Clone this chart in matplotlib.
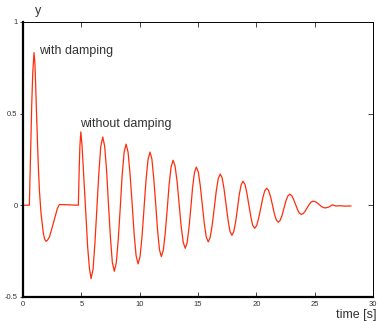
import matplotlib
matplotlib.use('Agg')
import matplotlib.pyplot as plt

plt.rcParams['font.family'] = ['Liberation Sans', 'DejaVu Sans']

# time [s] and response y
t = [0.0, 0.54, 0.6, 0.67, 0.74, 0.83, 0.94, 1.02, 1.09, 1.16, 1.23, 1.31, 1.4,
     1.54, 1.74, 1.85, 1.97, 2.1, 2.26, 2.51, 2.74, 2.94, 3.11, 4.74, 4.8, 4.87,
     4.95, 5.05, 5.17, 5.34, 5.54, 5.69, 5.83,
     6.0, 6.16, 6.33, 6.5, 6.66, 6.83,
     6.99, 7.16, 7.32, 7.49, 7.65, 7.82,
     7.99, 8.16, 8.33, 8.49, 8.66, 8.83,
     9.00, 9.17, 9.35, 9.52, 9.69, 9.86,
     10.03, 10.20, 10.37, 10.54, 10.71, 10.88,
     11.04, 11.20, 11.37, 11.53, 11.69, 11.85,
     12.02, 12.19, 12.36, 12.52, 12.69, 12.86,
     13.03, 13.21, 13.38, 13.55, 13.73, 13.9,
     14.06, 14.22, 14.38, 14.53, 14.69, 14.85,
     15.02, 15.19, 15.36, 15.53, 15.70, 15.87,
     16.04, 16.21, 16.39, 16.56, 16.73, 16.9,
     17.07, 17.23, 17.40, 17.57, 17.73, 17.9,
     18.06, 18.22, 18.38, 18.53, 18.69, 18.85,
     19.02, 19.18, 19.35, 19.52, 19.68, 19.85,
     20.02, 20.19, 20.37, 20.54, 20.71, 20.88,
     21.04, 21.21, 21.38, 21.54, 21.71, 21.87,
     22.03, 22.20, 22.36, 22.52, 22.69, 22.85,
     23.02, 23.18, 23.35, 23.52, 23.68, 23.85,
     24.02, 24.18, 24.35, 24.52, 24.68, 24.85,
     25.03, 25.20, 25.38, 25.55, 25.73, 25.9,
     26.2, 26.5, 26.8, 27.2, 27.6, 28.1]
y = [0.0, 0.0, 0.17, 0.36, 0.54, 0.72, 0.832, 0.77, 0.63, 0.49, 0.355, 0.21, 0.082,
     -0.044, -0.153, -0.185, -0.197, -0.19, -0.173, -0.118, -0.064, -0.018, 0.004, 0.0, 0.17, 0.32,
     0.40, 0.33, 0.19, 0.0, -0.23, -0.345, -0.40,
     -0.348, -0.207, -0.014, 0.179, 0.320, 0.372,
     0.323, 0.189, 0.006, -0.177, -0.311, -0.36,
     -0.314, -0.187, -0.014, 0.160, 0.287, 0.333,
     0.289, 0.170, 0.007, -0.157, -0.276, -0.32,
     -0.279, -0.168, -0.015, 0.138, 0.249, 0.29,
     0.252, 0.148, 0.005, -0.138, -0.242, -0.28,
     -0.245, -0.149, -0.018, 0.114, 0.210, 0.245,
     0.213, 0.125, 0.005, -0.115, -0.203, -0.235,
     -0.205, -0.124, -0.014, 0.097, 0.178, 0.208,
     0.181, 0.106, 0.004, -0.098, -0.173, -0.20,
     -0.175, -0.108, -0.015, 0.078, 0.145, 0.17,
     0.148, 0.087, 0.003, -0.081, -0.142, -0.164,
     -0.144, -0.090, -0.017, 0.057, 0.111, 0.131,
     0.114, 0.067, 0.003, -0.062, -0.109, -0.126,
     -0.111, -0.071, -0.017, 0.038, 0.078, 0.093,
     0.081, 0.047, 0.0, -0.047, -0.081, -0.093,
     -0.083, -0.055, -0.017, 0.022, 0.050, 0.06,
     0.053, 0.033, 0.005, -0.023, -0.043, -0.05,
     -0.045, -0.032, -0.014, 0.004, 0.017, 0.022,
     0.020, 0.013, 0.004, -0.006, -0.012, -0.015,
     -0.01, 0.002, -0.004, -0.003, -0.005, -0.004]

xticks = [0, 5, 10, 15, 20, 25, 30]
yticks = [-0.5, 0, 0.5, 1]
yticklabels = ['-0.5', '0', '0.5', '1']

fig = plt.figure(figsize=(3.78, 3.21), dpi=100)
ax = fig.add_axes([0.061, 0.075, 0.926, 0.857])

ax.plot(t, y, color='#ff2d0a', lw=0.9, solid_joinstyle='round')

ax.set_xlim(0, 30)
ax.set_ylim(-0.5, 1)
ax.set_xticks(xticks)
ax.set_xticklabels([str(v) for v in xticks])
ax.set_yticks(yticks)
ax.set_yticklabels(yticklabels)

###spines: heavy left/bottom, thin top/right
ax.spines['left'].set_linewidth(1.6)
ax.spines['bottom'].set_linewidth(1.6)
ax.spines['top'].set_linewidth(0.7)
ax.spines['right'].set_linewidth(0.7)

ax.tick_params(axis='x', direction='in', top=True, length=3.5, width=0.7,
               color='#444444', labelsize=5.5, labelcolor='#333333', pad=3)
ax.tick_params(axis='y', direction='out', length=2.5, width=0.7,
               color='#444444', labelsize=5.5, labelcolor='#333333', pad=1.5)
ax.tick_params(axis='y', which='major', right=True)
for tk in ax.yaxis.get_major_ticks():
    tk.tick2line.set_marker(matplotlib.lines.TICKLEFT)
    tk.tick2line.set_markersize(3.5)

fig.text(0.1, 0.965, 'y', fontsize=9, color='#333333', ha='center', va='center')
ax.annotate('with damping', xy=(1.4, 0.84), fontsize=9, color='#333333',
            ha='left', va='center')
ax.annotate('without damping', xy=(4.9, 0.445), fontsize=9, color='#333333',
            ha='left', va='center')
fig.text(0.995, 0.018, 'time [s]', fontsize=9, color='#333333', ha='right',
         va='center')

fig.savefig('out.png', dpi=100)
